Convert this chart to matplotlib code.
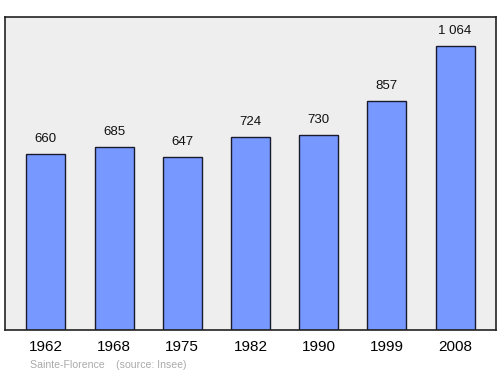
import numpy as np
import matplotlib
matplotlib.use("Agg")
import matplotlib.pyplot as plt

plt.rcParams["font.family"] = ["Liberation Sans", "DejaVu Sans"]

years = ["1962", "1968", "1975", "1982", "1990", "1999", "2008"]
population = [660, 685, 647, 724, 730, 857, 1064]
value_labels = ["660", "685", "647", "724", "730", "857", "1 064"]

fig = plt.figure(figsize=(5.0, 3.74), dpi=100)
# axes box in pixel coordinates: left 5, right 496, top 17, bottom 330
ax = fig.add_axes([5 / 500, 1 - 330 / 374, 491 / 500, 313 / 374])
ax.set_facecolor("#eeeeee")

x = np.arange(len(years))
ax.bar(x, population, width=0.57, color="#7799ff", edgecolor="#1a1a2e", linewidth=1.0, zorder=2)

for xi, v, lab in zip(x, population, value_labels):
    ax.annotate(lab, (xi, v), xytext=(0, 6.5), textcoords="offset points",
                ha="center", va="bottom", fontsize=9.5, color="#111111")

ax.set_xlim(-0.6, 6.6)
ax.set_ylim(0, 1172)
ax.set_yticks([])
ax.set_xticks(x)
ax.set_xticklabels(years, fontsize=11)
ax.tick_params(axis="x", length=0, pad=7)
for sp in ax.spines.values():
    sp.set_color("#222222")
    sp.set_linewidth(1.2)

fig.text(30 / 500, 1 - 365 / 374, "Sainte-Florence    (source: Insee)",
         fontsize=7.6, color="#aaaaaa", ha="left", va="center")

fig.savefig("out.png", dpi=100)
